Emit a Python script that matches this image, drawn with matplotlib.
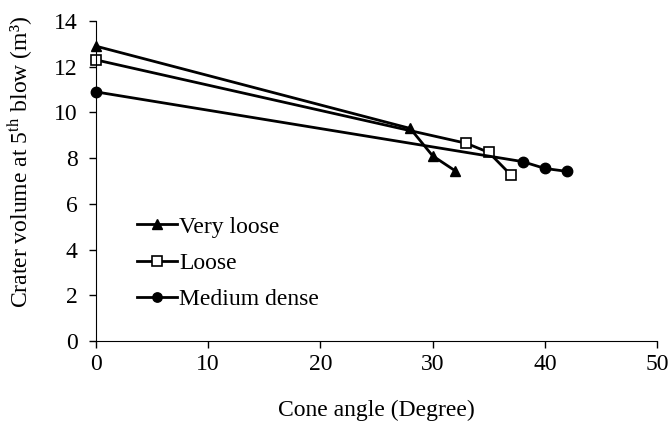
import matplotlib
matplotlib.use('Agg')
import matplotlib.pyplot as plt

plt.rcParams['font.family'] = ['Liberation Serif', 'DejaVu Serif']
plt.rcParams['mathtext.fontset'] = 'stix'

# Data
very_loose_x = [0, 28, 30, 32]
very_loose_y = [12.9, 9.3, 8.1, 7.45]
loose_x = [0, 33, 35, 37]
loose_y = [12.3, 8.65, 8.25, 7.25]
medium_x = [0, 38, 40, 42]
medium_y = [10.9, 7.85, 7.55, 7.42]

fig = plt.figure(figsize=(6.7, 4.28), dpi=100)
ax = fig.add_axes([0.143, 0.203, 0.838, 0.748])

ax.plot(very_loose_x, very_loose_y, color='black', lw=2, marker='^', markersize=7.5,
        label='Very loose', clip_on=False)
ax.plot(loose_x, loose_y, color='black', lw=2, marker='s', markersize=7.5,
        markerfacecolor='white', markeredgewidth=1.2, label='Loose', clip_on=False)
ax.plot(medium_x, medium_y, color='black', lw=2, marker='o', markersize=7.5,
        label='Medium dense', clip_on=False)

ax.set_xlim(0, 50)
ax.set_ylim(0, 14)
ax.set_xticks(range(0, 51, 10))
ax.set_yticks(range(0, 15, 2))
ax.spines['top'].set_visible(False)
ax.spines['right'].set_visible(False)
ax.tick_params(direction='out', length=5, width=1, labelsize=17)
ax.tick_params(axis='x', pad=4)
ax.tick_params(axis='y', pad=8)

ax.set_xlabel('Cone angle (Degree)', fontsize=17, labelpad=18)
ax.set_ylabel('Crater volume at 5$^{\\rm th}$ blow (m\u00b3)', fontsize=17)
ax.yaxis.set_label_coords(-0.108, 0.56)

ax.legend(loc='upper left', bbox_to_anchor=(0.056, 0.42), frameon=False, fontsize=17,
          handlelength=1.7, handletextpad=0.1, labelspacing=0.62, borderaxespad=0,
          markerscale=0.9)

fig.savefig('out.png', dpi=100)
